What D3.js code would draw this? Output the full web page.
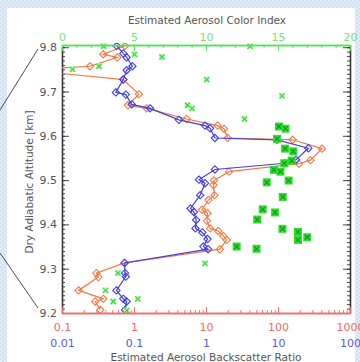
<!DOCTYPE html>
<html>
<head>
<meta charset="utf-8">
<script src="https://cdn.jsdelivr.net/npm/d3@7"></script>
<style>
  html, body { margin: 0; padding: 0; background: #fff; }
  svg { display: block; }
</style>
</head>
<body>
<svg id="chart" width="360" height="362"></svg>
<script>
// backscatter ratio profile (orange, red axis 0.1 .. 1000)
const orangeAlt = [9.803, 9.784, 9.777, 9.757, 9.749, 9.727, 9.694, 9.669, 9.662, 9.638,
  9.623, 9.616, 9.595, 9.591, 9.571, 9.545, 9.537, 9.519, 9.499, 9.489,
  9.466, 9.455, 9.433, 9.425, 9.408, 9.391, 9.385, 9.374, 9.365, 9.344,
  9.313, 9.290, 9.281, 9.251, 9.232, 9.226, 9.207];
const orangeVal = [0.75, 0.375, 0.586, 0.245, 0.03, 0.71, 1.17, 0.825, 1.5, 5.4,
  14.5, 17.8, 20, 160, 408, 283, 196, 20.9, 12.9, 12.7,
  13.1, 10.8, 8.8, 10.5, 10.3, 11.4, 14.8, 17.4, 19.4, 15.6,
  0.74, 0.30, 0.32, 0.17, 0.375, 0.29, 0.34];

// backscatter ratio profile (blue, blue axis 0.01 .. 100)
const blueAlt = [9.803, 9.786, 9.777, 9.757, 9.748, 9.727, 9.698, 9.693, 9.671, 9.662,
  9.636, 9.623, 9.617, 9.595, 9.591, 9.572, 9.546, 9.538, 9.524, 9.501,
  9.493, 9.466, 9.436, 9.428, 9.410, 9.391, 9.382, 9.367, 9.350, 9.344,
  9.313, 9.290, 9.282, 9.251, 9.232, 9.226, 9.207];
const blueVal = [0.0575, 0.071, 0.079, 0.095, 0.079, 0.071, 0.056, 0.077, 0.093, 0.167,
  0.42, 0.97, 1.14, 1.33, 9.7, 26.4, 17.8, 12.5, 1.33, 0.80,
  0.97, 0.83, 0.61, 0.68, 0.73, 0.715, 0.89, 1.05, 0.92, 1.07,
  0.074, 0.075, 0.077, 0.057, 0.071, 0.079, 0.075];

// color index, weak points (small crosses)
const weakAlt = [9.802, 9.802, 9.784, 9.778, 9.750, 9.757, 9.727, 9.690, 9.669, 9.662,
  9.638, 9.312, 9.290, 9.251, 9.232, 9.226, 9.206];
const weakCI = [2.88, 13.06, 5.03, 6.94, 0.73, 2.57, 10.05, 15.28, 8.72, 9.03,
  12.67, 9.93, 3.89, 3.02, 5.26, 3.56, 4.49];

// color index, strong points (filled squares)
const strongAlt = [9.621, 9.616, 9.593, 9.571, 9.565, 9.544, 9.538, 9.523, 9.519, 9.495,
  9.499, 9.462, 9.434, 9.427, 9.411, 9.390, 9.383, 9.365, 9.371, 9.350, 9.345];
const strongCI = [15.07, 15.52, 14.93, 15.49, 16.06, 15.95, 15.44, 14.72, 15.17, 14.22,
  15.74, 15.33, 13.94, 14.79, 13.56, 15.31, 16.39, 16.39, 17.03, 12.13, 13.51];

const altTicks = [9.2, 9.3, 9.4, 9.5, 9.6, 9.7, 9.8];
const ciTicks = [0, 5, 10, 15, 20];
const redTicks = [0.1, 1, 10, 100, 1000];
const blueTicks = [0.01, 0.1, 1, 10, 100];

const svg = d3.select('#chart');
const W = 360, H = 362;
const plot = { left: 62, right: 350, top: 45, bottom: 313 };

// slide background
const defs = svg.append('defs');
const pat = defs.append('pattern').attr('id', 'bgpat')
  .attr('width', 4).attr('height', 4).attr('patternUnits', 'userSpaceOnUse');
pat.append('rect').attr('width', 4).attr('height', 4).attr('fill', '#cfe1f4');
pat.append('rect').attr('width', 2).attr('height', 2).attr('fill', '#e4eefa');
pat.append('rect').attr('x', 2).attr('y', 2).attr('width', 2).attr('height', 2).attr('fill', '#e4eefa');
svg.append('rect').attr('width', W).attr('height', H).attr('fill', 'url(#bgpat)');
svg.append('rect').attr('x', 7).attr('y', 8).attr('width', 348).attr('height', H - 8).attr('fill', '#fff');

// callout lines
svg.append('line').attr('x1', 0).attr('y1', 110).attr('x2', 38).attr('y2', 49)
  .attr('stroke', '#222').attr('stroke-width', 0.8);
svg.append('line').attr('x1', 0).attr('y1', 253).attr('x2', 38).attr('y2', 308)
  .attr('stroke', '#222').attr('stroke-width', 0.8);

defs.append('clipPath').attr('id', 'plotclip').append('rect')
  .attr('x', plot.left).attr('y', plot.top - 2)
  .attr('width', plot.right - plot.left).attr('height', plot.bottom - plot.top + 2);

const x = d3.scaleLog().domain([0.1, 1000]).range([plot.left, plot.right]);
const xb = d3.scaleLog().domain([0.01, 100]).range([plot.left, plot.right]);
const xc = d3.scaleLinear().domain([0, 20]).range([plot.left, plot.right]);
const y = d3.scaleLinear().domain([9.2, 9.805]).range([plot.bottom, plot.top]);

const font = 'DejaVu Sans, sans-serif';
const txt = '#555';

function styleAxis(g, color, fs) {
  g.select('.domain').attr('stroke', color).attr('stroke-width', 1.3);
  g.selectAll('.tick line').attr('stroke', color).attr('stroke-width', 0.9);
  g.selectAll('.tick text').attr('fill', color).style('font-family', font).style('font-size', fs + 'px');
  g.attr('font-family', null).attr('font-size', null);
}

// minor tick lists
const altMinor = d3.range(920, 981).map(d => d / 100);
const ciMinor = d3.range(0, 21);
const logMinor = [];
[0.1, 1, 10, 100].forEach(p => { for (let k = 1; k < 10; k++) logMinor.push(p * k); });

// left axis
svg.append('g').attr('transform', `translate(${plot.left},0)`)
  .call(d3.axisLeft(y).tickValues(altMinor).tickSizeInner(-3).tickSizeOuter(0).tickFormat(''))
  .call(g => styleAxis(g, '#333', 11));
svg.append('g').attr('transform', `translate(${plot.left},0)`)
  .call(d3.axisLeft(y).tickValues(altTicks).tickSizeInner(-7).tickSizeOuter(0).tickPadding(5)
    .tickFormat(d3.format('.1f')))
  .call(g => styleAxis(g, '#333', 11))
  .call(g => g.selectAll('.tick text').attr('fill', txt));

// right axis
svg.append('g').attr('transform', `translate(${plot.right},0)`)
  .call(d3.axisRight(y).tickValues(altMinor).tickSizeInner(-3).tickSizeOuter(0).tickFormat(''))
  .call(g => styleAxis(g, '#333', 11));
svg.append('g').attr('transform', `translate(${plot.right},0)`)
  .call(d3.axisRight(y).tickValues(altTicks).tickSizeInner(-7).tickSizeOuter(0).tickFormat(''))
  .call(g => styleAxis(g, '#333', 11));

// data
const clip = svg.append('g').attr('clip-path', 'url(#plotclip)');

const diamond = d3.symbol().type(d3.symbolDiamond2).size(34);

const orangeData = orangeAlt.map((a, i) => ({ a, v: orangeVal[i] }));
const blueData = blueAlt.map((a, i) => ({ a, v: blueVal[i] }));

clip.append('path').datum(orangeData)
  .attr('fill', 'none').attr('stroke', '#f07a45').attr('stroke-width', 1.2)
  .attr('d', d3.line().x(d => x(d.v)).y(d => y(d.a)));
clip.selectAll('.od').data(orangeData).join('path').attr('class', 'od')
  .attr('transform', d => `translate(${x(d.v)},${y(d.a)})`)
  .attr('d', diamond).attr('fill', 'none').attr('stroke', '#f07a45').attr('stroke-width', 1.1);

clip.append('path').datum(blueData)
  .attr('fill', 'none').attr('stroke', '#4a3cd6').attr('stroke-width', 1.2)
  .attr('d', d3.line().x(d => xb(d.v)).y(d => y(d.a)));
clip.selectAll('.bd').data(blueData).join('path').attr('class', 'bd')
  .attr('transform', d => `translate(${xb(d.v)},${y(d.a)})`)
  .attr('d', diamond).attr('fill', 'none').attr('stroke', '#3c3ce8').attr('stroke-width', 1.1);

const strong = clip.selectAll('.sg').data(strongAlt.map((a, i) => ({ a, c: strongCI[i] })))
  .join('g').attr('class', 'sg')
  .attr('transform', d => `translate(${xc(d.c)},${y(d.a)})`);
strong.append('rect').attr('x', -4).attr('y', -4).attr('width', 8).attr('height', 8).attr('fill', '#2ee02e');
strong.append('path').attr('d', 'M-2.5,-2.5L2.5,2.5M-2.5,2.5L2.5,-2.5')
  .attr('stroke', '#14901a').attr('stroke-width', 1.1);

const weak = clip.selectAll('.wg').data(weakAlt.map((a, i) => ({ a, c: weakCI[i] })))
  .join('g').attr('class', 'wg')
  .attr('transform', d => `translate(${xc(d.c)},${y(d.a)})`);
weak.append('rect').attr('x', -3).attr('y', -3).attr('width', 6).attr('height', 6).attr('fill', '#c9f5c9');
weak.append('path').attr('d', 'M-2.5,-2.5L2.5,2.5M-2.5,2.5L2.5,-2.5')
  .attr('stroke', '#35d835').attr('stroke-width', 1.2);

// top axis (colour index)
svg.append('g').attr('transform', `translate(0,${plot.top})`)
  .call(d3.axisTop(xc).tickValues(ciMinor).tickSizeInner(-3).tickSizeOuter(0).tickFormat(''))
  .call(g => styleAxis(g, '#55e055', 11));
svg.append('g').attr('transform', `translate(0,${plot.top})`)
  .call(d3.axisTop(xc).tickValues(ciTicks).tickSizeInner(-6).tickSizeOuter(0).tickPadding(4))
  .call(g => styleAxis(g, '#55e055', 11))
  .call(g => g.selectAll('.tick text').attr('fill', '#7ade7a'));

// bottom axis (backscatter ratio)
svg.append('g').attr('transform', `translate(0,${plot.bottom})`)
  .call(d3.axisBottom(x).tickValues(logMinor).tickSizeInner(-3).tickSizeOuter(0).tickFormat(''))
  .call(g => styleAxis(g, '#f06a6a', 11));
svg.append('g').attr('transform', `translate(0,${plot.bottom})`)
  .call(d3.axisBottom(x).tickValues(redTicks).tickSizeInner(-6).tickSizeOuter(0).tickPadding(10)
    .tickFormat(d => String(d)))
  .call(g => styleAxis(g, '#f06a6a', 11));
svg.append('g').attr('transform', `translate(0,${plot.bottom + 16})`)
  .call(d3.axisBottom(xb).tickValues(blueTicks).tickSize(0).tickPadding(10)
    .tickFormat(d => String(d)))
  .call(g => styleAxis(g, '#5a5ae0', 11))
  .call(g => g.select('.domain').remove());

// titles
svg.append('text').attr('x', 207).attr('y', 24).attr('text-anchor', 'middle')
  .style('font-family', font).style('font-size', '10.5px').attr('fill', txt)
  .text('Estimated Aerosol Color Index');
svg.append('text').attr('x', 206).attr('y', 361).attr('text-anchor', 'middle')
  .style('font-family', font).style('font-size', '10.5px').attr('fill', txt)
  .text('Estimated Aerosol Backscatter Ratio');
svg.append('text').attr('transform', 'translate(33,182) rotate(-90)').attr('text-anchor', 'middle')
  .style('font-family', font).style('font-size', '10.5px').attr('fill', txt)
  .text('Dry Adiabatic Altitude [km]');
</script>
</body>
</html>
